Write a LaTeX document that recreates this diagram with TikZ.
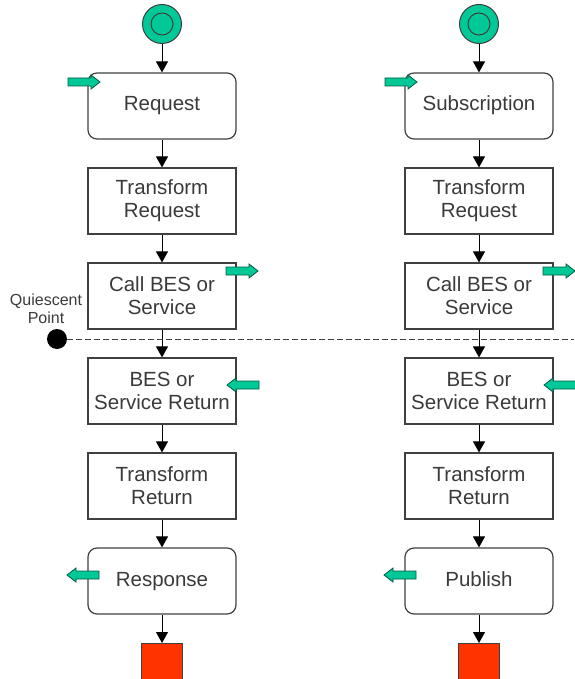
\documentclass[tikz,border=0pt]{standalone}
\usepackage{fontspec}
\setmainfont{Liberation Sans}
\usetikzlibrary{arrows.meta}
\definecolor{startgreen}{RGB}{0,200,150}
\definecolor{endred}{RGB}{255,51,0}
\definecolor{linegray}{RGB}{64,64,64}
\definecolor{textgray}{RGB}{58,58,58}
\begin{document}
\begin{tikzpicture}[x=1pt, y=-1pt,
    stepbox/.style={rectangle, draw=linegray, line width=1.2pt, minimum width=148pt, minimum height=66pt, align=center, text=textgray, font=\fontsize{20.5}{23}\selectfont},
    eventbox/.style={stepbox, rounded corners=9pt, text height=14.5pt, text depth=4.5pt},
    startnode/.style={circle, fill=startgreen, draw=linegray, line width=1pt, minimum size=39pt, inner sep=0pt},
    endnode/.style={rectangle, fill=endred, draw=linegray, line width=1pt, minimum size=41pt, inner sep=0pt},
    flow/.style={draw=black, line width=1pt, -{Triangle[length=11pt, width=12pt]}},
    flowarrow/.pic={\filldraw[fill=startgreen, draw=startgreen!45!black, line width=0.8pt] (0,0) -- (-9,-7) -- (-9,-4) -- (-32,-4) -- (-32,4) -- (-9,4) -- (-9,7) -- cycle;}]
    \useasboundingbox (0,0) rectangle (574,679);
    % request / response side
    \node (start1) at (162,24) [startnode] {};
    \draw[linegray, line width=1pt] (start1) circle (11pt);
    \node (req) at (162,106) [eventbox] {Request};
    \node (treq1) at (162,201) [stepbox] {Transform\\Request};
    \node (call1) at (162,296) [stepbox] {Call BES or\\Service};
    \node (ret1) at (162,391) [stepbox] {BES or\\Service Return};
    \node (tret1) at (162,486) [stepbox] {Transform\\Return};
    \node (resp) at (162,581) [eventbox] {Response};
    \node (end1) at (162,664) [endnode] {};
    % subscription / publish side
    \node (start2) at (479,24) [startnode] {};
    \draw[linegray, line width=1pt] (start2) circle (11pt);
    \node (sub) at (479,106) [eventbox] {Subscription};
    \node (treq2) at (479,201) [stepbox] {Transform\\Request};
    \node (call2) at (479,296) [stepbox] {Call BES or\\Service};
    \node (ret2) at (479,391) [stepbox] {BES or\\Service Return};
    \node (tret2) at (479,486) [stepbox] {Transform\\Return};
    \node (pub) at (479,581) [eventbox] {Publish};
    \node (end2) at (479,664) [endnode] {};
    \draw[flow] (start1) -- (req);
    \draw[flow] (req) -- (treq1);
    \draw[flow] (treq1) -- (call1);
    \draw[flow] (call1) -- (ret1);
    \draw[flow] (ret1) -- (tret1);
    \draw[flow] (tret1) -- (resp);
    \draw[flow] (resp) -- (end1);
    \draw[flow] (start2) -- (sub);
    \draw[flow] (sub) -- (treq2);
    \draw[flow] (treq2) -- (call2);
    \draw[flow] (call2) -- (ret2);
    \draw[flow] (ret2) -- (tret2);
    \draw[flow] (tret2) -- (pub);
    \draw[flow] (pub) -- (end2);
    % quiescent point
    \node (qdot) at (57,339) [circle, fill=black, minimum size=20pt, inner sep=0pt] {};
    \node (qlabel) at (46,309) [align=center, text=textgray, font=\fontsize{16}{18}\selectfont] {Quiescent\\Point};
    \coordinate (qend) at (574,339);
    \draw[linegray, line width=1pt, dash pattern=on 6pt off 3pt] (qdot) -- (qend);
    % green in/out arrows
    \pic at (100,82) {flowarrow};
    \pic at (258,271) {flowarrow};
    \pic[rotate=180] at (227,385) {flowarrow};
    \pic[rotate=180] at (67,575) {flowarrow};
    \pic at (417,82) {flowarrow};
    \pic at (575,271) {flowarrow};
    \pic[rotate=180] at (544,385) {flowarrow};
    \pic[rotate=180] at (384,575) {flowarrow};
\end{tikzpicture}
\end{document}
